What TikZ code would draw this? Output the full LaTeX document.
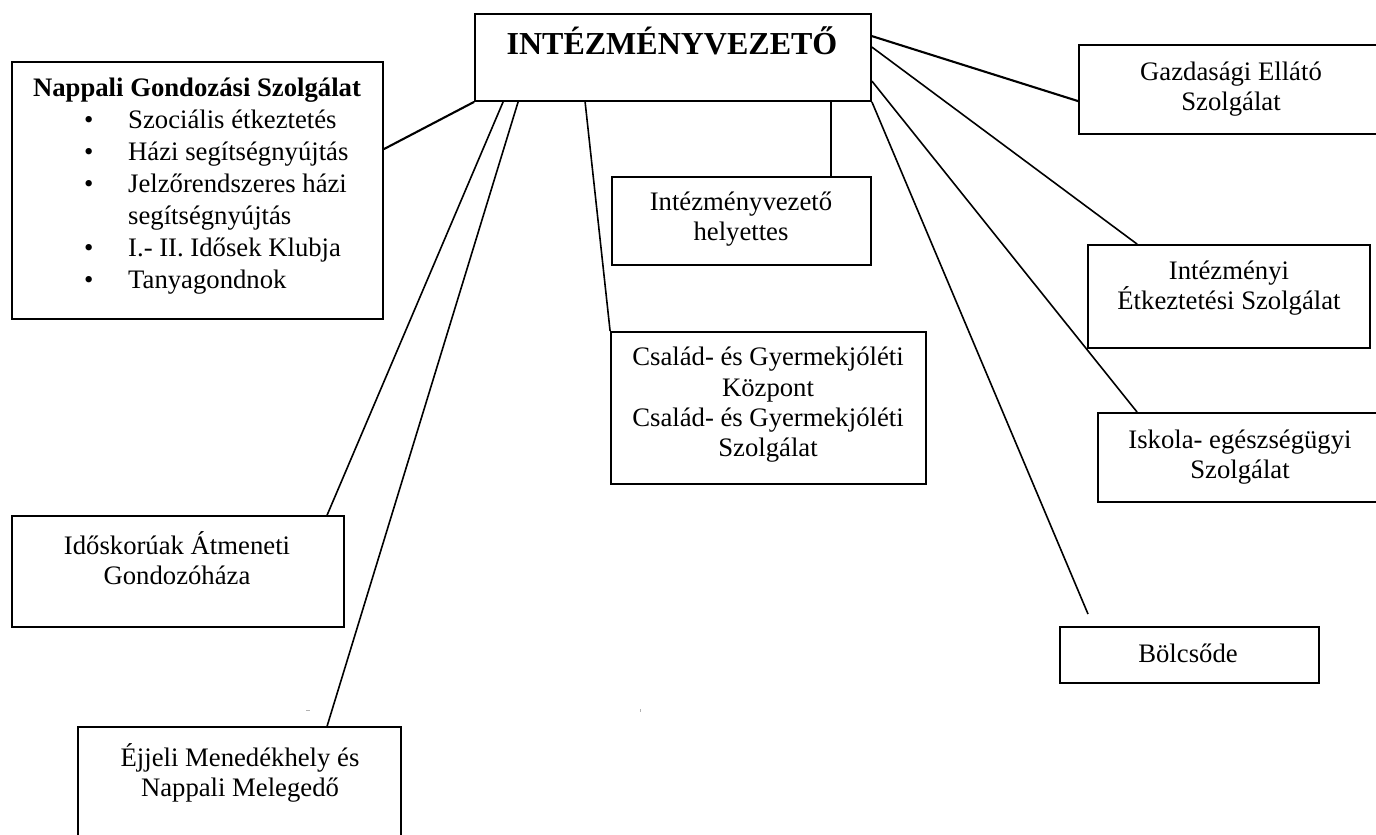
\documentclass[tikz,border=0pt]{standalone}
\usepackage{fontspec}
\setmainfont{Liberation Serif}
\usetikzlibrary{calc}
\begin{document}
\begin{tikzpicture}[x=1pt,y=-1pt,
  box/.style={draw, line width=1.8pt, rectangle, inner sep=0pt},
  lbl/.style={inner sep=0pt, align=center, font=\fontsize{26.7}{30.3}\selectfont},
  listitem/.style={inner sep=0pt, anchor=base west, font=\fontsize{26.7}{30.3}\selectfont},
  conn/.style={line width=1.6pt},
  boldconn/.style={line width=2.1pt},
  speck/.style={line width=0.8pt, black!30}]
\useasboundingbox (0,0) rectangle (1376,835);
\clip (0,0) rectangle (1376,835);
% boxes
\node[box, minimum width=396pt, minimum height=87pt] (top) at (673,57.5) {};
\node[box, minimum width=371pt, minimum height=257pt] (nappali) at (197.5,190.5) {};
\node[box, minimum width=307pt, minimum height=89pt] (gazd) at (1232.5,89.5) {};
\node[box, minimum width=259pt, minimum height=88pt] (helyettes) at (741.5,221) {};
\node[box, minimum width=282pt, minimum height=103pt] (etk) at (1229,296.5) {};
\node[box, minimum width=315pt, minimum height=152pt] (csalad) at (768.5,408) {};
\node[box, minimum width=282pt, minimum height=89pt] (iskola) at (1239,457.5) {};
\node[box, minimum width=259pt, minimum height=56pt] (bolcs) at (1189.5,655) {};
\node[box, minimum width=332pt, minimum height=111pt] (ido) at (178,571.5) {};
\node[box, minimum width=323pt, minimum height=113pt] (ejjeli) at (239.5,783.5) {};
% texts
\node[inner sep=0pt, anchor=base, font=\bfseries\fontsize{32}{36}\selectfont] (ttl) at (672,54) {INTÉZMÉNYVEZETŐ};
\node[inner sep=0pt, anchor=base, font=\bfseries\fontsize{26.7}{30.3}\selectfont] (ntitle) at (197,96) {Nappali Gondozási Szolgálat};
\node[listitem] (b1) at (84,128) {•};
\node[listitem] (i1) at (128,128) {Szociális étkeztetés};
\node[listitem] (b2) at (84,160) {•};
\node[listitem] (i2) at (128,160) {Házi segítségnyújtás};
\node[listitem] (b3) at (84,192) {•};
\node[listitem] (i3) at (128,192) {Jelzőrendszeres házi};
\node[listitem] (i3b) at (128,224) {segítségnyújtás};
\node[listitem] (b4) at (84,256) {•};
\node[listitem] (i4) at (128,256) {I.- II. Idősek Klubja};
\node[listitem] (b5) at (84,288) {•};
\node[listitem] (i5) at (128,288) {Tanyagondnok};
\node[lbl] (tgazd) at (1231,89) {Gazdasági Ellátó\\Szolgálat};
\node[lbl] (thely) at (741,219) {Intézményvezető\\helyettes};
\node[lbl] (tetk) at (1229,288) {Intézményi\\Étkeztetési Szolgálat};
\node[lbl] (tcsal) at (768,405) {Család- és Gyermekjóléti\\Központ\\Család- és Gyermekjóléti\\Szolgálat};
\node[lbl] (tisk) at (1240,457) {Iskola- egészségügyi\\Szolgálat};
\node[lbl] (tbolc) at (1188,653) {Bölcsőde};
\node[lbl] (tido) at (177,558) {Időskorúak Átmeneti\\Gondozóháza};
\node[lbl] (tejj) at (240,773) {Éjjeli Menedékhely és\\Nappali Melegedő};
% connectors
\coordinate (bolcsend) at (1088,614);
\draw[boldconn] (top.south west) -- ($(nappali.north east)+(0,88)$);
\draw[conn] ($(top.south west)+(29,0)$) -- ($(ido.north west)+(316,0)$);
\draw[conn] ($(top.south west)+(44,0)$) -- ($(ejjeli.north west)+(250,0)$);
\draw[conn] ($(top.south west)+(111,0)$) -- (csalad.north west);
\draw[conn] ($(top.south west)+(357,0)$) -- ($(helyettes.north west)+(220,0)$);
\draw[boldconn] ($(top.north east)+(0,23)$) -- ($(gazd.north west)+(0,57)$);
\draw[conn] ($(top.north east)+(0,34)$) -- ($(etk.north west)+(50,0)$);
\draw[conn] ($(top.north east)+(0,68)$) -- ($(iskola.north west)+(40,0)$);
\draw[conn] (top.south east) -- (bolcsend);
% small specks in the scan
\coordinate (speckA) at (306,710);
\coordinate (speckB) at (640,709);
\draw[speck] (speckA) -- ++(4,0);
\draw[speck] (speckB) -- ++(0,3);
\end{tikzpicture}
\end{document}
